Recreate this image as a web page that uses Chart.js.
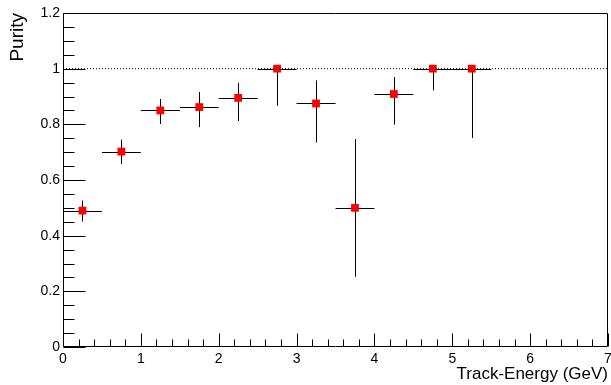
<!DOCTYPE html>
<html>
<head>
<meta charset="utf-8">
<script src="https://cdn.jsdelivr.net/npm/chart.js@4/dist/chart.umd.min.js"></script>
<style>
  html, body { margin: 0; padding: 0; background: #fff; }
  #wrap { width: 611px; height: 385px; }
</style>
</head>
<body>
<div id="wrap"><canvas id="c" width="611" height="385"></canvas></div>
<script>
// ---- data ----
const binCenters = [0.25, 0.75, 1.25, 1.75, 2.25, 2.75, 3.25, 3.75, 4.25, 4.75, 5.25];
const binHalfWidth = [0.25, 0.25, 0.25, 0.25, 0.25, 0.25, 0.25, 0.25, 0.25, 0.25, 0.25];
const purity   = [0.490, 0.702, 0.850, 0.862, 0.895, 1.000, 0.875, 0.500, 0.909, 1.000, 1.000];
const errUp    = [0.036, 0.043, 0.041, 0.054, 0.054, 0.000, 0.083, 0.247, 0.061, 0.000, 0.000];
const errDown  = [0.039, 0.045, 0.049, 0.072, 0.083, 0.133, 0.140, 0.248, 0.110, 0.078, 0.249];
const refLineY = [1, 1];
const refLineX = [0, 7];
const xTickLabels = ['0', '1', '2', '3', '4', '5', '6', '7'];
const yTickLabels = ['0', '0.2', '0.4', '0.6', '0.8', '1', '1.2'];

const FONT = "'Liberation Sans', Arial, Helvetica, sans-serif";

const points = binCenters.map((x, i) => ({ x: x, y: purity[i] }));
const refLine = refLineX.map((x, i) => ({ x: x, y: refLineY[i] }));

const errorBars = {
  id: 'errorBars',
  beforeDatasetsDraw(chart) {
    const ctx = chart.ctx, xs = chart.scales.x, ys = chart.scales.y;
    ctx.save();
    ctx.strokeStyle = '#000';
    ctx.lineWidth = 1;
    binCenters.forEach((x, i) => {
      const px = Math.round(xs.getPixelForValue(x)) + 0.5;
      const py = Math.round(ys.getPixelForValue(purity[i])) + 0.5;
      const x0 = xs.getPixelForValue(x - binHalfWidth[i]);
      const x1 = xs.getPixelForValue(x + binHalfWidth[i]);
      const yTop = ys.getPixelForValue(purity[i] + errUp[i]);
      const yBot = ys.getPixelForValue(purity[i] - errDown[i]);
      ctx.beginPath();
      ctx.moveTo(x0, py); ctx.lineTo(x1, py);
      ctx.moveTo(px, yTop); ctx.lineTo(px, yBot);
      ctx.stroke();
    });
    ctx.restore();
  }
};

const frameTicks = {
  id: 'frameTicks',
  afterDraw(chart) {
    const ctx = chart.ctx, xs = chart.scales.x, ys = chart.scales.y;
    const a = chart.chartArea;
    ctx.save();
    ctx.strokeStyle = '#000';
    ctx.lineWidth = 1;
    const L = Math.round(a.left) + 0.5, R = Math.round(a.right) - 0.5;
    const T = Math.round(a.top) + 0.5, B = Math.round(a.bottom) - 0.5;
    ctx.beginPath();
    ctx.rect(L, T, R - L, B - T);
    ctx.stroke();
    // y ticks (inward): major every 0.2, minor every 0.05
    ctx.beginPath();
    const nY = Math.round((ys.max - ys.min) / 0.05);
    for (let k = 0; k <= nY; k++) {
      const v = ys.min + k * 0.05;
      const py = Math.round(ys.getPixelForValue(v)) + 0.5;
      const len = (k % 4 === 0) ? 22 : 11;
      ctx.moveTo(L, py); ctx.lineTo(L + len, py);
    }
    // x ticks (inward): major every 1, minor every 0.2
    const nX = Math.round((xs.max - xs.min) / 0.2);
    for (let k = 0; k <= nX; k++) {
      const v = xs.min + k * 0.2;
      const px = Math.round(xs.getPixelForValue(v)) + 0.5;
      const len = (k % 5 === 0) ? 13 : 7;
      ctx.moveTo(px, B); ctx.lineTo(px, B - len);
    }
    ctx.stroke();
    ctx.restore();
  }
};

new Chart(document.getElementById('c'), {
  type: 'scatter',
  data: {
    datasets: [
      {
        type: 'line',
        data: refLine,
        borderColor: '#000',
        borderWidth: 1,
        borderDash: [1, 2],
        pointRadius: 0,
        fill: false
      },
      {
        data: points,
        pointStyle: 'rect',
        pointRadius: 5.5,
        pointHoverRadius: 5.5,
        backgroundColor: '#ff0000',
        borderWidth: 0
      }
    ]
  },
  options: {
    responsive: false,
    animation: false,
    events: [],
    layout: { autoPadding: false, padding: { top: 13, right: 3, left: 0, bottom: 0 } },
    plugins: { legend: { display: false }, tooltip: { enabled: false } },
    scales: {
      x: {
        type: 'linear',
        min: 0, max: 7,
        afterFit(s) { s.height = 38; s.paddingLeft = 0; s.paddingRight = 0; },
        ticks: {
          stepSize: 1,
          padding: 4,
          color: '#000',
          font: { family: FONT, size: 14 },
          callback: (v) => xTickLabels[Math.round(v)] ?? ''
        },
        grid: { display: false, drawTicks: false, tickLength: 0 },
        border: { display: false },
        title: {
          display: true,
          text: 'Track-Energy (GeV)',
          align: 'end',
          color: '#000',
          font: { family: FONT, size: 17 },
          padding: { top: 0, bottom: 0 }
        }
      },
      y: {
        type: 'linear',
        min: 0, max: 1.2,
        afterFit(s) { s.width = 63; s.paddingTop = 0; s.paddingBottom = 0; },
        ticks: {
          stepSize: 0.2,
          padding: 3,
          color: '#000',
          font: { family: FONT, size: 14 },
          callback: (v) => yTickLabels[Math.round(v / 0.2)] ?? ''
        },
        grid: { display: false, drawTicks: false, tickLength: 0 },
        border: { display: false },
        title: {
          display: true,
          text: 'Purity',
          align: 'end',
          color: '#000',
          font: { family: FONT, size: 19 },
          padding: { top: 6, bottom: 0 }
        }
      }
    }
  },
  plugins: [errorBars, frameTicks]
});
</script>
</body>
</html>
